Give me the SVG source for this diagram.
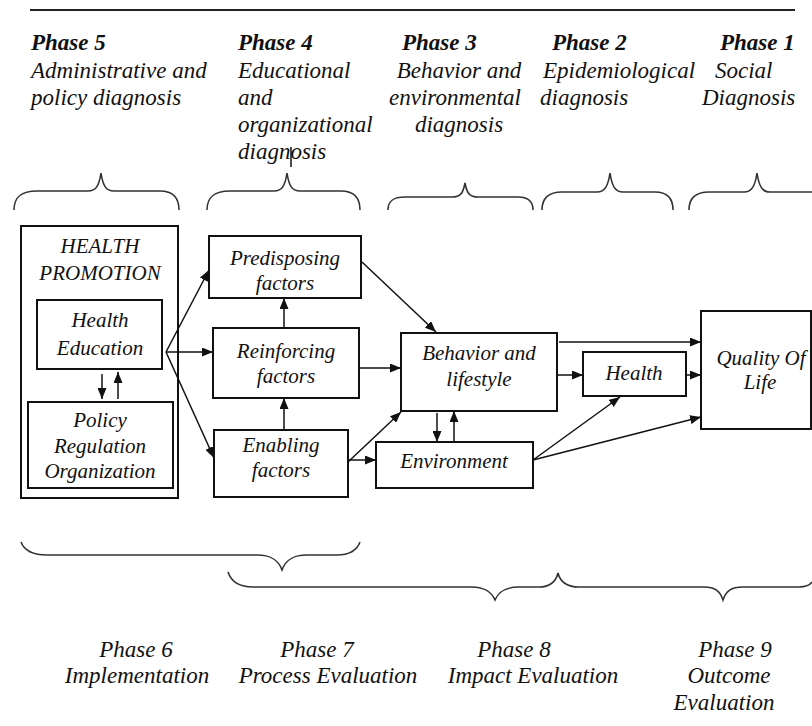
<svg xmlns="http://www.w3.org/2000/svg" width="812" height="726" viewBox="0 0 812 726">
<style>
text{font-family:"Liberation Serif","Times New Roman",serif;font-style:italic;fill:#111}
.ph{font-size:23px;font-weight:bold}
.d{font-size:23px}
.b{font-size:23px}
.n{font-size:21px;text-anchor:middle}
.c{text-anchor:middle}
.box{fill:#fff;stroke:#111;stroke-width:2}
.br{fill:none;stroke:#333;stroke-width:1.6}
.cn line{stroke:#111;stroke-width:1.5;marker-end:url(#ah)}
</style>
<defs>
<marker id="ah" markerUnits="userSpaceOnUse" markerWidth="11" markerHeight="9" refX="11" refY="4.5" orient="auto">
<path d="M0,0 L11,4.5 L0,9 z" fill="#111"/>
</marker>
</defs>
<rect width="812" height="726" fill="#fff"/>
<line x1="30" y1="10" x2="795" y2="10" stroke="#222" stroke-width="2"/>

<g id="headers">
<text class="ph" x="31" y="50">Phase 5</text>
<text class="d" x="31" y="78">Administrative and</text>
<text class="d" x="31" y="105">policy diagnosis</text>
<text class="ph" x="238" y="50">Phase 4</text>
<text class="d" x="238" y="78">Educational</text>
<text class="d" x="238" y="105">and</text>
<text class="d" x="238" y="132">organizational</text>
<text class="d" x="238" y="159">diagnosis</text>
<line x1="291" y1="147" x2="291" y2="167" stroke="#111" stroke-width="1.5"/>
<text class="ph" x="402" y="50">Phase 3</text>
<text class="d c" x="459" y="78">Behavior and</text>
<text class="d c" x="455" y="105">environmental</text>
<text class="d c" x="459" y="132">diagnosis</text>
<text class="ph" x="552" y="50">Phase 2</text>
<text class="d" x="543" y="78">Epidemiological</text>
<text class="d" x="540" y="105">diagnosis</text>
<text class="ph" x="720" y="50">Phase 1</text>
<text class="d" x="715" y="78">Social</text>
<text class="d" x="702" y="105">Diagnosis</text>
</g>

<g id="top-braces">
<path class="br" d="M14,210 C14,198 20,191 37,191 L88,191 C96,191 99,186 101,173 C103,186 106,191 114,191 L160,191 C173,191 179,198 179,210"/>
<path class="br" d="M207,210 C207,198 213,191 230,191 L274,191 C282,191 285,186 287,173 C289,186 292,191 300,191 L341,191 C354,191 360,198 360,210"/>
<path class="br" d="M388,210 C388,202 392,197 405,197 L452,197 C460,197 463,194 465,183 C467,194 470,197 478,197 L518,197 C529,197 533,202 533,210"/>
<path class="br" d="M542,210 C542,199 547,192 562,192 L597,192 C605,192 608,186 610,173 C612,186 615,192 623,192 L655,192 C668,192 673,199 673,210"/>
<path class="br" d="M689,210 C689,199 694,192 709,192 L744,192 C752,192 755,186 757,173 C759,186 762,192 770,192 L812,192"/>
</g>

<g id="health-promotion">
<rect class="box" x="21" y="226" width="157" height="272"/>
<text class="n" x="100" y="253">HEALTH</text>
<text class="n" x="100" y="280">PROMOTION</text>
</g>
<g id="health-education">
<rect class="box" x="37" y="300" width="125" height="69"/>
<text class="n" x="100" y="327">Health</text>
<text class="n" x="100" y="355">Education</text>
</g>
<g id="policy">
<rect class="box" x="28" y="402" width="145" height="86"/>
<text class="n" x="100" y="427">Policy</text>
<text class="n" x="100" y="453">Regulation</text>
<text class="n" x="100" y="478">Organization</text>
</g>
<g id="predisposing">
<rect class="box" x="209" y="236" width="152" height="62"/>
<text class="n" x="285" y="265">Predisposing</text>
<text class="n" x="285" y="290">factors</text>
</g>
<g id="reinforcing">
<rect class="box" x="213" y="328" width="146" height="70"/>
<text class="n" x="286" y="358">Reinforcing</text>
<text class="n" x="286" y="383">factors</text>
</g>
<g id="enabling">
<rect class="box" x="214" y="430" width="134" height="67"/>
<text class="n" x="281" y="452">Enabling</text>
<text class="n" x="281" y="477">factors</text>
</g>
<g id="behavior">
<rect class="box" x="401" y="333" width="156" height="78"/>
<text class="n" x="479" y="360">Behavior and</text>
<text class="n" x="479" y="386">lifestyle</text>
</g>
<g id="environment">
<rect class="box" x="376" y="442" width="157" height="46"/>
<text class="n" x="454" y="468">Environment</text>
</g>
<g id="health">
<rect class="box" x="583" y="352" width="103" height="44"/>
<text class="n" x="634" y="380">Health</text>
</g>
<g id="quality-of-life">
<rect class="box" x="701" y="311" width="110" height="118"/>
<text class="n" x="761" y="365">Quality Of</text>
<text class="n" x="760" y="389">Life</text>
</g>

<g id="connectors" class="cn">
<line x1="166" y1="352" x2="209" y2="270"/>
<line x1="166" y1="352" x2="213" y2="352"/>
<line x1="166" y1="352" x2="214" y2="458"/>
<line x1="102" y1="374" x2="102" y2="399"/>
<line x1="118" y1="399" x2="118" y2="372"/>
<line x1="284" y1="328" x2="284" y2="298"/>
<line x1="284" y1="430" x2="284" y2="398"/>
<line x1="362" y1="262" x2="436" y2="332"/>
<line x1="359" y1="368" x2="401" y2="368"/>
<line x1="348" y1="462" x2="401" y2="412"/>
<line x1="348" y1="460" x2="376" y2="460"/>
<line x1="437" y1="413" x2="437" y2="442"/>
<line x1="454" y1="442" x2="454" y2="411"/>
<line x1="559" y1="342" x2="701" y2="342"/>
<line x1="557" y1="375" x2="583" y2="375"/>
<line x1="686" y1="375" x2="701" y2="375"/>
<line x1="533" y1="460" x2="620" y2="397"/>
<line x1="533" y1="460" x2="701" y2="417"/>
</g>

<g id="bottom-braces">
<path class="br" d="M21,542 C24,550 32,555 47,555 L257,555 C270,555 278,559 282,570 C286,559 294,555 307,555 L337,555 C350,555 357,550 360,542"/>
<path class="br" d="M228,572 C231,581 239,587 253,587 L471,587 C484,587 491,591 495,600 C499,591 506,587 519,587 L539,587 C550,587 556,581 558,573 C560,581 566,587 579,587 L704,587 C715,587 720,591 723,600 C726,591 731,587 743,587 L799,587 C806,587 810,585 812,582"/>
</g>

<g id="footers">
<text class="b c" x="136" y="657">Phase 6</text>
<text class="b c" x="137" y="683">Implementation</text>
<text class="b c" x="317" y="657">Phase 7</text>
<text class="b c" x="328" y="683">Process Evaluation</text>
<text class="b c" x="514" y="657">Phase 8</text>
<text class="b c" x="533" y="683">Impact Evaluation</text>
<text class="b c" x="735" y="657">Phase 9</text>
<text class="b c" x="729" y="683">Outcome</text>
<text class="b c" x="724" y="710">Evaluation</text>
</g>
</svg>
